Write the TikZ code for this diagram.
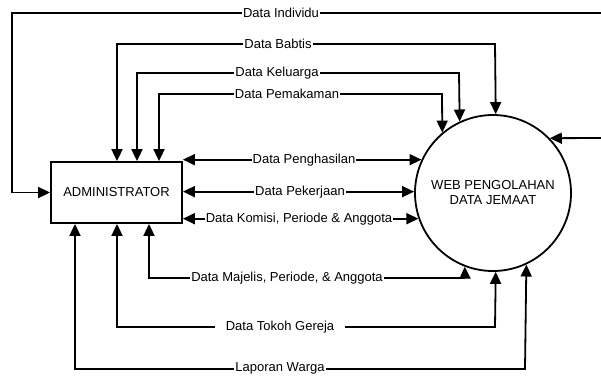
\documentclass[tikz,border=0pt]{standalone}
\usepackage{fontspec}
\setmainfont{Liberation Sans}
\usetikzlibrary{arrows.meta}
\begin{document}
\begin{tikzpicture}[x=1pt,y=-1pt,
  flow/.style={line width=1.8pt,line join=miter},
  tip/.style={-{Triangle[length=12pt,width=11pt]}},
  both/.style={{Triangle[length=12pt,width=11pt]}-{Triangle[length=12pt,width=11pt]}},
  lab/.style={fill=white,inner xsep=1pt,inner ysep=1pt,font=\fontsize{13}{14}\selectfont},
  ent/.style={draw,line width=1.8pt,minimum width=131pt,minimum height=61pt,font=\fontsize{13}{14}\selectfont},
  proc/.style={draw,circle,line width=1.8pt,minimum size=156pt,align=center,font=\fontsize{13}{15}\selectfont}]
\useasboundingbox (0,0) rectangle (601,376);
\node[ent] (adm) at (116.5,192.5) {ADMINISTRATOR};
\node[proc] (web) at (493,193) {WEB PENGOLAHAN\\DATA JEMAAT};

% coordinates of bends
\coordinate (iR) at (601,13);
\coordinate (iL) at (12,13);
\coordinate (bL) at (117,44);  \coordinate (bR) at (495,44);
\coordinate (kL) at (137,73);  \coordinate (kR) at (459,73);
\coordinate (pL) at (159,94);  \coordinate (pR) at (442,94);
\coordinate (mL) at (149,278); \coordinate (mR) at (465,278);
\coordinate (tL) at (117,327); \coordinate (tR) at (495,327);
\coordinate (lL) at (75,369);  \coordinate (lR) at (525,369);
\coordinate (rR) at (601,138);

% flows
\draw[flow,tip] (iR) -- (iL) |- (adm.west);
\draw[flow,both] (adm.north -| bL) -- (bL) -- (bR) -- (web.88.5);
\draw[flow,both] (adm.north -| kL) -- (kL) -- (kR) -- (web.115.8);
\draw[flow,both] (adm.north -| pL) -- (pL) -- (pR) -- (web.130.8);
\draw[flow,both] (adm.east |- web.155) -- (web.155);
\draw[flow,both] (adm.east |- web.179.3) -- (web.179.3);
\draw[flow,both] (adm.east |- web.199.5) -- (web.199.5);
\draw[flow,both] (adm.south -| mL) -- (mL) -- (mR) -- (web.-111);
\draw[flow,both] (adm.south -| tL) -- (tL) -- (tR) -- (web.-88.5);
\draw[flow,both] (adm.south -| lL) -- (lL) -- (lR) -- (web.-65.8);
\draw[flow,tip] (rR) -- (web.44.8);

% labels
\node[lab] (l1) at (281,13) {Data Individu};
\node[lab] (l2) at (278,44) {Data Babtis};
\node[lab] (l3) at (277,73) {Data Keluarga};
\node[lab] (l4) at (287,94) {Data Pemakaman};
\node[lab] (l5) at (304,160) {Data Penghasilan};
\node[lab] (l6) at (300,192) {Data Pekerjaan};
\node[lab] (l7) at (299,219) {Data Komisi, Periode \& Anggota};
\node[lab] (l8) at (287,278) {Data Majelis, Periode, \& Anggota};
\node[lab,inner xsep=11pt] (l9) at (280,327) {Data Tokoh Gereja};
\node[lab] (l10) at (280,368) {Laporan Warga};
\end{tikzpicture}
\end{document}
